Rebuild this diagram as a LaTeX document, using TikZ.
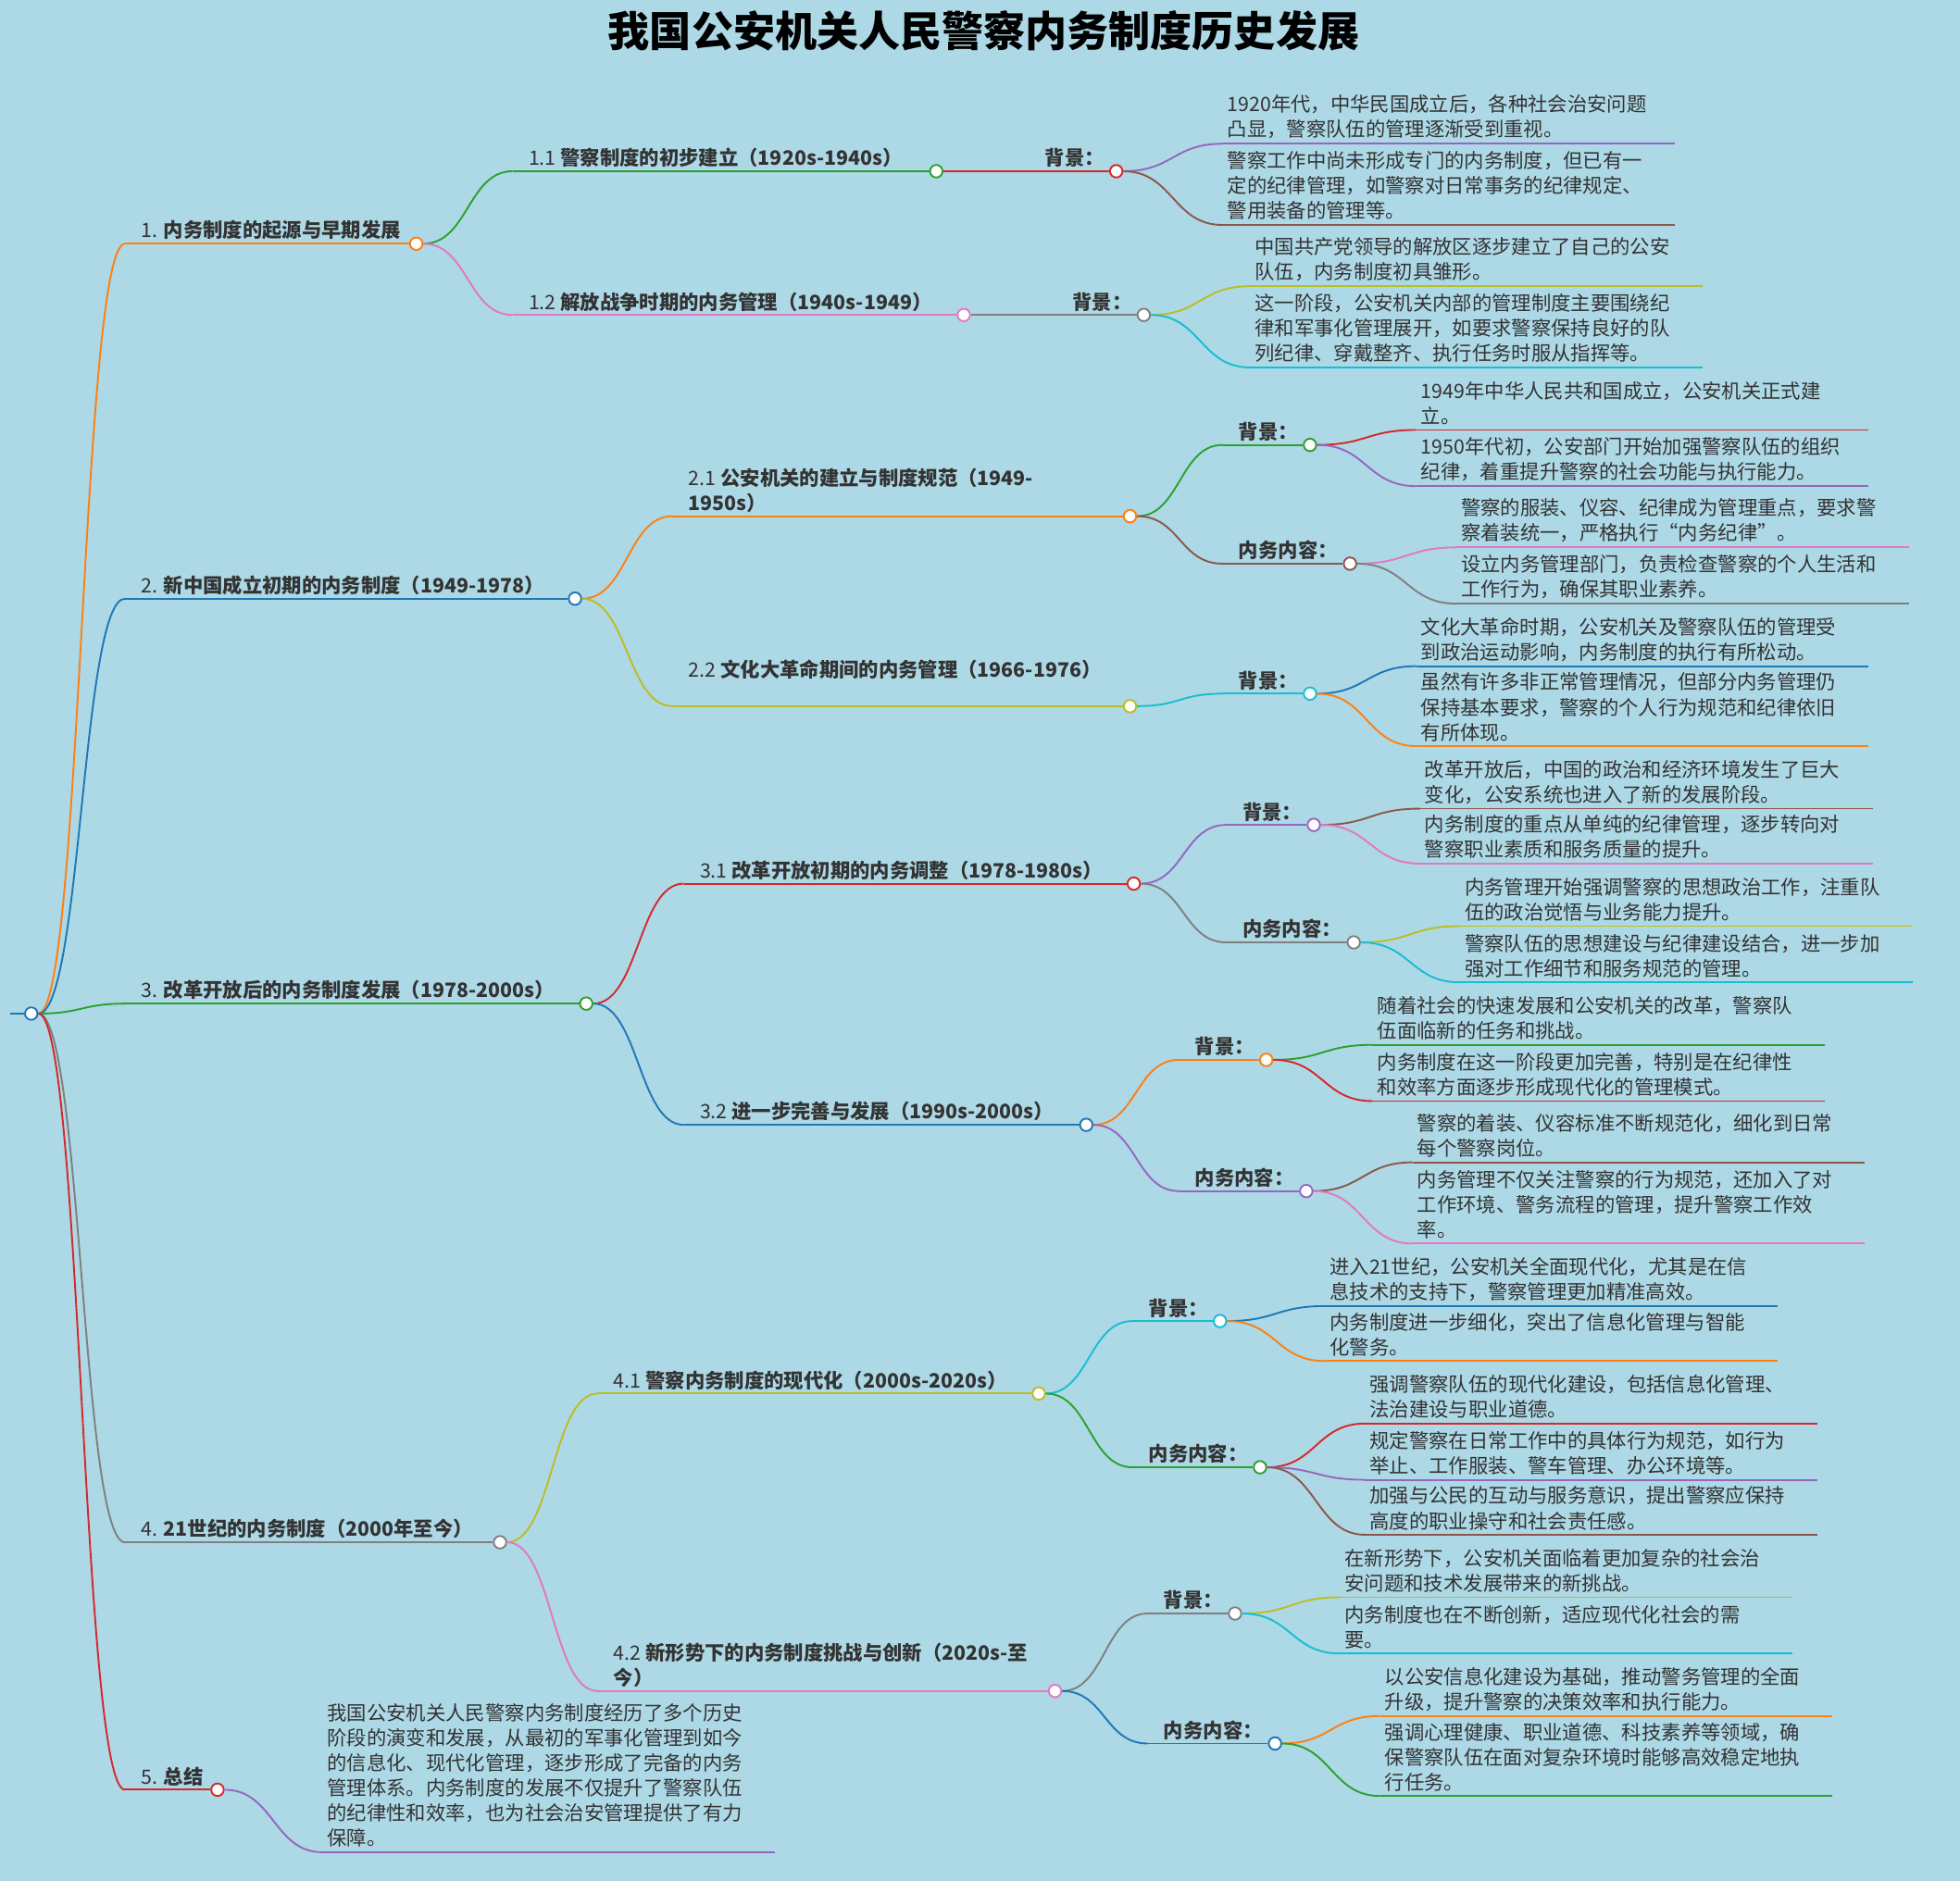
\documentclass[tikz,border=0pt]{standalone}
\usepackage{fontspec}
\setmainfont{Noto Sans CJK SC}
\usetikzlibrary{calc}
\definecolor{bg}{HTML}{ADD8E6}
\definecolor{txt}{HTML}{333333}
\definecolor{corange}{HTML}{FF7F0E}
\definecolor{cblue}{HTML}{1F77B4}
\definecolor{cgreen}{HTML}{2CA02C}
\definecolor{cred}{HTML}{D62728}
\definecolor{cpurple}{HTML}{9467BD}
\definecolor{cbrown}{HTML}{8C564B}
\definecolor{cpink}{HTML}{E377C2}
\definecolor{cgray}{HTML}{7F7F7F}
\definecolor{colive}{HTML}{BCBD22}
\definecolor{ccyan}{HTML}{17BECF}
\tikzset{
  dot/.style={circle,fill=white,line width=0.8pt,minimum size=0.2cm,inner sep=0pt},
  edge/.style={line width=0.8pt},
  lbl/.style={text=txt,font=\fontsize{9}{11.4}\selectfont,inner sep=1.5pt,align=left},
  leaftxt/.style={text=txt,font=\fontsize{9}{11.4}\selectfont,inner sep=2pt,align=left}
}
% s-curve from a parent to a line start
\newcommand{\mmcurve}[3]{%
  \draw[#3,edge] let \p1=(#1.east), \p2=(#2) in
    (\p1) .. controls ({(\x1+\x2)/2},\y1) and ({(\x1+\x2)/2},\y2) .. (\p2);
}
% branch: name, parent, line start x, y, circle x, colour, label
\newcommand{\mmnode}[7]{%
  \coordinate (#1s) at (#3,#4);
  \node[dot,draw=#6] (#1) at (#5,#4) {};
  \mmcurve{#2}{#1s}{#6}
  \draw[#6,edge] (#1s) -- (#1);
  \node[lbl,anchor=south west,xshift=0.2cm] (#1l) at (#1s) {#7};
}
% leaf: name, parent, line start x, y, line end x, colour, text
\newcommand{\mmleaf}[7]{%
  \coordinate (#1s) at (#3,#4);
  \coordinate (#1) at (#5,#4);
  \mmcurve{#2}{#1s}{#6}
  \draw[#6,edge] (#1s) -- (#1);
  \node[leaftxt,anchor=south west] (#1t) at (#1s) {#7};
}
\begin{document}
\begin{tikzpicture}[x=0.02cm,y=-0.02cm]
\fill[bg] (0,0) rectangle (1568,1505);
\useasboundingbox (0,0) rectangle (1568,1505);
\node[font=\fontsize{19}{22}\selectfont\bfseries,text=black] (title) at (787,25) {我国公安机关人民警察内务制度历史发展};
% root
\coordinate (r0) at (8,811);
\node[dot,draw=cblue] (root) at (25,811) {};
\draw[cblue,edge] (r0) -- (root);
% level 1
\mmnode{a}{root}{100}{195}{333}{corange}{1. \textbf{内务制度的起源与早期发展}}
\mmnode{b}{root}{100}{479}{460}{cblue}{2. \textbf{新中国成立初期的内务制度（1949-1978）}}
\mmnode{c}{root}{100}{803}{469}{cgreen}{3. \textbf{改革开放后的内务制度发展（1978-2000s）}}
\mmnode{d}{root}{100}{1234}{400}{cgray}{4. \textbf{21世纪的内务制度（2000年至今）}}
\mmnode{e}{root}{100}{1432}{174}{cred}{5. \textbf{总结}}
% level 2
\mmnode{a1}{a}{410}{137}{749}{cgreen}{1.1 \textbf{警察制度的初步建立（1920s-1940s）}}
\mmnode{a2}{a}{410}{252}{771}{cpink}{1.2 \textbf{解放战争时期的内务管理（1940s-1949）}}
\mmnode{b1}{b}{538}{413}{904}{corange}{2.1 \textbf{公安机关的建立与制度规范（1949-}\\\textbf{1950s）}}
\mmnode{b2}{b}{538}{565}{904}{colive}{2.2 \textbf{文化大革命期间的内务管理（1966-1976）}\\\mbox{}}
\mmnode{c1}{c}{547}{707}{907}{cred}{3.1 \textbf{改革开放初期的内务调整（1978-1980s）}}
\mmnode{c2}{c}{547}{900}{869}{cblue}{3.2 \textbf{进一步完善与发展（1990s-2000s）}}
\mmnode{d1}{d}{478}{1115}{831}{colive}{4.1 \textbf{警察内务制度的现代化（2000s-2020s）}}
\mmnode{d2}{d}{478}{1353}{844}{cpink}{4.2 \textbf{新形势下的内务制度挑战与创新（2020s-至}\\\textbf{今）}}
% level 3
\mmnode{a1x}{a1}{823}{137}{893}{cred}{\textbf{背景：}}
\mmnode{a2x}{a2}{845}{252}{915}{cgray}{\textbf{背景：}}
\mmnode{b1x}{b1}{978}{356}{1048}{cgreen}{\textbf{背景：}}
\mmnode{b1y}{b1}{978}{451}{1080}{cbrown}{\textbf{内务内容：}}
\mmnode{b2x}{b2}{978}{555}{1048}{ccyan}{\textbf{背景：}}
\mmnode{c1x}{c1}{981}{660}{1051}{cpurple}{\textbf{背景：}}
\mmnode{c1y}{c1}{981}{754}{1083}{cgray}{\textbf{内务内容：}}
\mmnode{c2x}{c2}{943}{848}{1013}{corange}{\textbf{背景：}}
\mmnode{c2y}{c2}{943}{953}{1045}{cpurple}{\textbf{内务内容：}}
\mmnode{d1x}{d1}{906}{1057}{976}{ccyan}{\textbf{背景：}}
\mmnode{d1y}{d1}{906}{1174}{1008}{cgreen}{\textbf{内务内容：}}
\mmnode{d2x}{d2}{918}{1291}{988}{cgray}{\textbf{背景：}}
\mmnode{d2y}{d2}{918}{1395}{1020}{cblue}{\textbf{内务内容：}}
% leaves
\mmleaf{a1x1}{a1x}{978}{115}{1340}{cpurple}{1920年代，中华民国成立后，各种社会治安问题\\凸显，警察队伍的管理逐渐受到重视。}
\mmleaf{a1x2}{a1x}{978}{180}{1340}{cbrown}{警察工作中尚未形成专门的内务制度，但已有一\\定的纪律管理，如警察对日常事务的纪律规定、\\警用装备的管理等。}
\mmleaf{a2x1}{a2x}{1000}{229}{1362}{colive}{中国共产党领导的解放区逐步建立了自己的公安\\队伍，内务制度初具雏形。}
\mmleaf{a2x2}{a2x}{1000}{294}{1362}{ccyan}{这一阶段，公安机关内部的管理制度主要围绕纪\\律和军事化管理展开，如要求警察保持良好的队\\列纪律、穿戴整齐、执行任务时服从指挥等。}
\mmleaf{b1x1}{b1x}{1133}{344}{1495}{cred}{1949年中华人民共和国成立，公安机关正式建\\立。}
\mmleaf{b1x2}{b1x}{1133}{389}{1495}{cpurple}{1950年代初，公安部门开始加强警察队伍的组织\\纪律，着重提升警察的社会功能与执行能力。}
\mmleaf{b1y1}{b1y}{1165}{438}{1527}{cpink}{警察的服装、仪容、纪律成为管理重点，要求警\\察着装统一，严格执行“内务纪律”。}
\mmleaf{b1y2}{b1y}{1165}{483}{1527}{cgray}{设立内务管理部门，负责检查警察的个人生活和\\工作行为，确保其职业素养。}
\mmleaf{b2x1}{b2x}{1133}{533}{1495}{cblue}{文化大革命时期，公安机关及警察队伍的管理受\\到政治运动影响，内务制度的执行有所松动。}
\mmleaf{b2x2}{b2x}{1133}{597}{1495}{corange}{虽然有许多非正常管理情况，但部分内务管理仍\\保持基本要求，警察的个人行为规范和纪律依旧\\有所体现。}
\mmleaf{c1x1}{c1x}{1136}{647}{1498}{cbrown}{改革开放后，中国的政治和经济环境发生了巨大\\变化，公安系统也进入了新的发展阶段。}
\mmleaf{c1x2}{c1x}{1136}{691}{1498}{cpink}{内务制度的重点从单纯的纪律管理，逐步转向对\\警察职业素质和服务质量的提升。}
\mmleaf{c1y1}{c1y}{1168}{741}{1530}{colive}{内务管理开始强调警察的思想政治工作，注重队\\伍的政治觉悟与业务能力提升。}
\mmleaf{c1y2}{c1y}{1168}{786}{1530}{ccyan}{警察队伍的思想建设与纪律建设结合，进一步加\\强对工作细节和服务规范的管理。}
\mmleaf{c2x1}{c2x}{1098}{836}{1460}{cgreen}{随着社会的快速发展和公安机关的改革，警察队\\伍面临新的任务和挑战。}
\mmleaf{c2x2}{c2x}{1098}{881}{1460}{cred}{内务制度在这一阶段更加完善，特别是在纪律性\\和效率方面逐步形成现代化的管理模式。}
\mmleaf{c2y1}{c2y}{1130}{930}{1492}{cbrown}{警察的着装、仪容标准不断规范化，细化到日常\\每个警察岗位。}
\mmleaf{c2y2}{c2y}{1130}{995}{1492}{cpink}{内务管理不仅关注警察的行为规范，还加入了对\\工作环境、警务流程的管理，提升警察工作效\\率。}
\mmleaf{d1x1}{d1x}{1060}{1045}{1422}{cblue}{进入21世纪，公安机关全面现代化，尤其是在信\\息技术的支持下，警察管理更加精准高效。}
\mmleaf{d1x2}{d1x}{1060}{1089}{1422}{corange}{内务制度进一步细化，突出了信息化管理与智能\\化警务。}
\mmleaf{d1y1}{d1y}{1092}{1139}{1454}{cred}{强调警察队伍的现代化建设，包括信息化管理、\\法治建设与职业道德。}
\mmleaf{d1y2}{d1y}{1092}{1184}{1454}{cpurple}{规定警察在日常工作中的具体行为规范，如行为\\举止、工作服装、警车管理、办公环境等。}
\mmleaf{d1y3}{d1y}{1092}{1228}{1454}{cbrown}{加强与公民的互动与服务意识，提出警察应保持\\高度的职业操守和社会责任感。}
\mmleaf{d2x1}{d2x}{1072}{1278}{1434}{colive}{在新形势下，公安机关面临着更加复杂的社会治\\安问题和技术发展带来的新挑战。}
\mmleaf{d2x2}{d2x}{1072}{1323}{1434}{ccyan}{内务制度也在不断创新，适应现代化社会的需\\要。}
\mmleaf{d2y1}{d2y}{1104}{1373}{1466}{corange}{以公安信息化建设为基础，推动警务管理的全面\\升级，提升警察的决策效率和执行能力。}
\mmleaf{d2y2}{d2y}{1104}{1437}{1466}{cgreen}{强调心理健康、职业道德、科技素养等领域，确\\保警察队伍在面对复杂环境时能够高效稳定地执\\行任务。}
\mmleaf{e1}{e}{258}{1482}{620}{cpurple}{我国公安机关人民警察内务制度经历了多个历史\\阶段的演变和发展，从最初的军事化管理到如今\\的信息化、现代化管理，逐步形成了完备的内务\\管理体系。内务制度的发展不仅提升了警察队伍\\的纪律性和效率，也为社会治安管理提供了有力\\保障。}
\end{tikzpicture}
\end{document}
